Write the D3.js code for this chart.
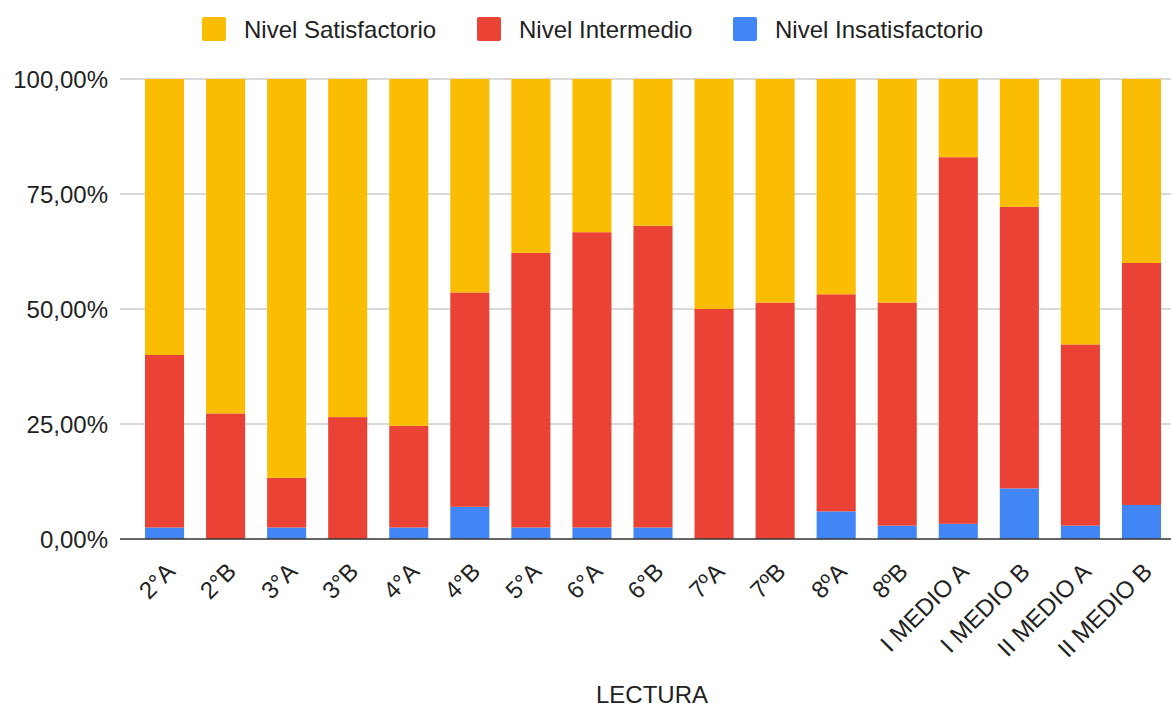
<!DOCTYPE html>
<html><head><meta charset="utf-8">
<script src="https://cdn.jsdelivr.net/npm/d3@7"></script>
<style>body{margin:0;background:#fff;} text{font-family:"Liberation Sans",Arial,sans-serif;}</style>
</head><body>
<svg id="c" width="1171" height="707"></svg>
<script>
const categories = ["2°A","2°B","3°A","3°B","4°A","4°B","5°A","6°A","6°B","7ºA","7ºB","8ºA","8ºB","I MEDIO A","I MEDIO B","II MEDIO A","II MEDIO B"];
const insatisfactorio = [2.5,0,2.5,0,2.5,7.0,2.5,2.5,2.5,0,0,6.0,2.9,3.3,11.0,2.9,7.4];
const intermedio = [37.5,27.3,10.8,26.5,22.1,46.6,59.7,64.2,65.6,50.0,51.4,47.2,48.5,79.7,61.2,39.4,52.6];
const satisfactorio = [60.0,72.7,86.7,73.5,75.4,46.4,37.8,33.3,31.9,50.0,48.6,46.8,48.6,17.0,27.8,57.7,40.0];
const yTicks = [0,25,50,75,100];
const seriesNames = ["Nivel Insatisfactorio","Nivel Intermedio","Nivel Satisfactorio"];
const colors = {"Nivel Insatisfactorio":"#4285F4","Nivel Intermedio":"#EA4335","Nivel Satisfactorio":"#FBBC04"};

const rows = categories.map((c,i)=>({cat:c,"Nivel Insatisfactorio":insatisfactorio[i],"Nivel Intermedio":intermedio[i],"Nivel Satisfactorio":satisfactorio[i]}));
const stack = d3.stack().keys(seriesNames)(rows);

const svg = d3.select("#c");
const plotL = 120, plotR = 1171, plotTop = 79, plotBottom = 539;
const x = d3.scaleBand().domain(categories).range([134,1172]).paddingInner(0.36).paddingOuter(0.18);
const y = d3.scaleLinear().domain([0,100]).range([plotBottom, plotTop]);

// gridlines
svg.append("g").selectAll("line").data(yTicks.filter(t=>t>0)).join("line")
  .attr("x1",plotL).attr("x2",plotR).attr("y1",d=>y(d)).attr("y2",d=>y(d))
  .attr("stroke","#cccccc").attr("stroke-width",1.5);

// y labels
const fmt = v => d3.format(".2f")(v).replace(".",",")+"%";
svg.append("g").selectAll("text").data(yTicks).join("text")
  .attr("x",108).attr("y",d=>y(d)).attr("dy","0.36em").attr("text-anchor","end")
  .attr("font-size",24).attr("fill","#222").text(fmt);

// bars
svg.append("g").selectAll("g").data(stack).join("g").attr("fill",d=>colors[d.key])
  .selectAll("rect").data(d=>d).join("rect")
  .attr("x",d=>x(d.data.cat)).attr("width",x.bandwidth())
  .attr("y",d=>y(d[1])).attr("height",d=>y(d[0])-y(d[1]));

// baseline
svg.append("line").attr("x1",plotL).attr("x2",plotR).attr("y1",plotBottom).attr("y2",plotBottom)
  .attr("stroke","#333").attr("stroke-width",1.5);

// x labels
svg.append("g").selectAll("text").data(categories).join("text")
  .attr("transform",d=>`translate(${x(d)+x.bandwidth()/2},${plotBottom+22}) rotate(-45)`)
  .attr("text-anchor","end").attr("dy","0.71em").attr("font-size",24).attr("fill","#222").text(d=>d);

// x title
svg.append("text").attr("x",652).attr("y",703).attr("text-anchor","middle")
  .attr("font-size",24).attr("fill","#222").text("LECTURA");

// legend
const legend = [{name:"Nivel Satisfactorio",x:202},{name:"Nivel Intermedio",x:477},{name:"Nivel Insatisfactorio",x:733}];
const lg = svg.append("g").selectAll("g").data(legend).join("g").attr("transform",d=>`translate(${d.x},17)`);
lg.append("rect").attr("width",24).attr("height",24).attr("rx",2).attr("fill",d=>colors[d.name]);
lg.append("text").attr("x",42).attr("y",12).attr("dy","0.36em").attr("font-size",24).attr("fill","#222").text(d=>d.name);
</script>
</body></html>
